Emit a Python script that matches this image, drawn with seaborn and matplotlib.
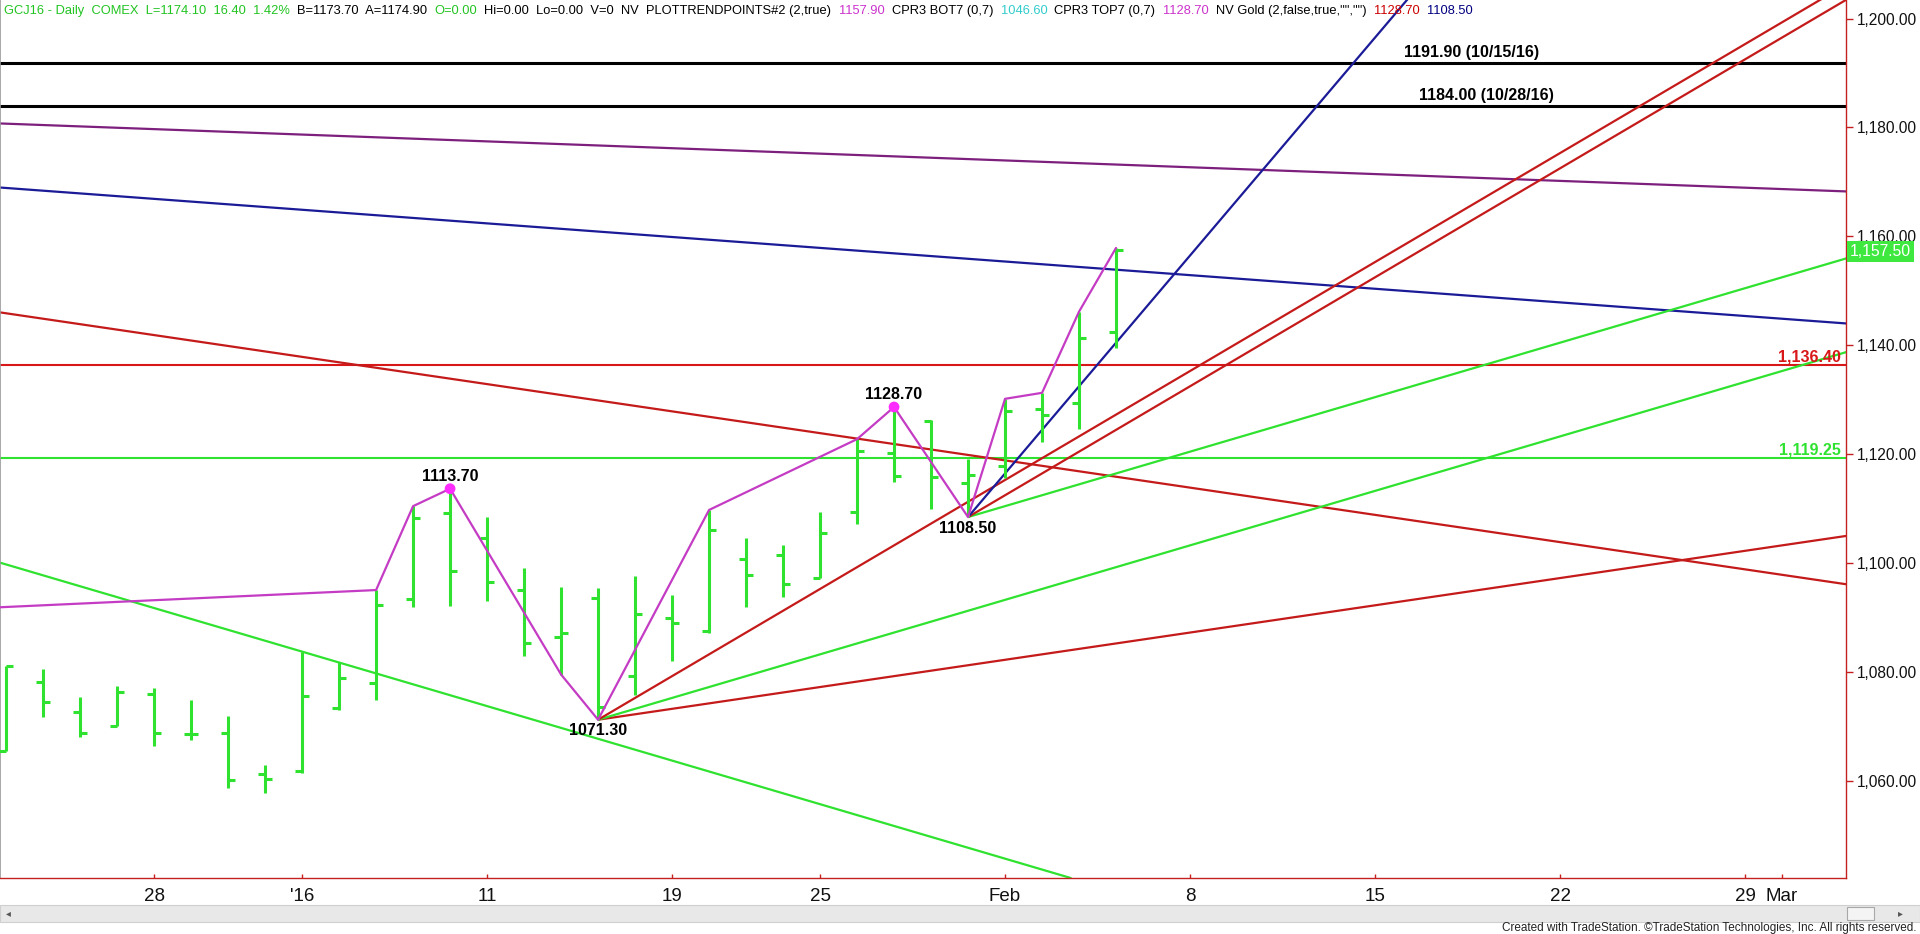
import numpy as np
import pandas as pd
import matplotlib
matplotlib.use("Agg")
import matplotlib.pyplot as plt
from matplotlib import font_manager
from matplotlib.patches import Rectangle
import seaborn as sns

# ---------------- data ----------------
bar_idx = list(range(31))
opens = [1065.6, 1078.2, 1072.7, 1070.2, 1076.1, 1068.7, 1068.8, 1061.3, 1061.9, 1073.5,
         1078.0, 1093.4, 1109.2, 1104.6, 1095.1, 1086.4, 1093.6, 1079.4, 1089.9, 1087.5,
         1100.8, 1101.5, 1097.4, 1109.4, 1120.2, 1126.2, 1114.7, 1117.9, 1128.4, 1129.5, 1142.4]
highs = [1081.2, 1080.7, 1075.5, 1077.4, 1077.1, 1074.9, 1072.0, 1063.0, 1083.8, 1081.9,
         1095.1, 1110.5, 1113.7, 1108.6, 1099.1, 1095.7, 1095.4, 1097.7, 1094.2, 1109.8,
         1104.6, 1103.4, 1109.5, 1122.8, 1128.7, 1126.3, 1119.2, 1130.2, 1131.3, 1146.2, 1157.9]
lows = [1065.6, 1071.8, 1068.2, 1070.2, 1066.5, 1067.6, 1058.8, 1057.8, 1061.6, 1073.1,
        1074.9, 1092.0, 1092.2, 1093.0, 1083.0, 1079.6, 1071.3, 1075.8, 1082.1, 1087.3,
        1092.0, 1093.8, 1097.4, 1107.3, 1114.9, 1109.9, 1108.5, 1115.6, 1122.3, 1124.6, 1139.5]
closes = [1081.2, 1074.6, 1068.8, 1076.4, 1068.8, 1068.7, 1060.2, 1060.5, 1075.6, 1078.9,
          1092.3, 1108.3, 1098.6, 1096.5, 1085.3, 1087.3, 1073.7, 1090.7, 1089.1, 1106.1,
          1097.9, 1096.2, 1105.5, 1120.6, 1116.1, 1115.9, 1116.3, 1128.0, 1127.2, 1141.3, 1157.5]

# swing (trend point) line
zig_idx = [-0.3, 10, 11, 12, 15, 16, 19, 23, 24, 26, 27, 28, 29, 30]
zig_val = [1091.9, 1095.1, 1110.5, 1113.7, 1079.6, 1071.3, 1109.8, 1122.8, 1128.7,
           1108.5, 1130.2, 1131.3, 1146.2, 1157.9]
pivot_high_idx = [12, 24]
pivot_high_val = [1113.7, 1128.7]
pivot_high_txt = ["1113.70", "1128.70"]
pivot_low_idx = [16, 26]
pivot_low_val = [1071.3, 1108.5]
pivot_low_txt = ["1071.30", "1108.50"]

# fan rays: anchor bar, anchor price, slope per bar, colour key (start at anchor)
fan_anchor_idx = [16, 16, 16, 26, 26, 26]
fan_anchor_val = [1071.3, 1071.3, 1071.3, 1108.5, 1108.5, 1108.5]
fan_slope = [1.0, 2.0, 4.0, 2.0, 4.0, 8.0]
fan_kind = ["red", "green", "red", "green", "red", "blue"]

# long trend lines crossing the whole chart: price at bar 0, slope per bar
trend_val0 = [1145.9, 1099.8, 1168.9, 1180.7]
trend_slope = [-1.0, -2.0, -0.5, -0.25]
trend_kind = ["red", "green", "blue", "purple"]

# horizontal levels
black_levels = [1191.90, 1184.00]
black_labels = ["1191.90 (10/15/16)", "1184.00 (10/28/16)"]
black_label_idx = [39.6, 40.0]
red_level = 1136.40
green_level = 1119.25
last_price = 1157.50

y_ticks = [1060, 1080, 1100, 1120, 1140, 1160, 1180, 1200]
x_tick_idx = [4, 8, 13, 18, 22, 27, 32, 37, 42, 47, 48]
x_tick_lab = ["28", "'16", "11", "19", "25", "Feb", "8", "15", "22", "29", "Mar"]
month_idx = [8, 27, 48]

header_parts = [
    ("GCJ16 - Daily  COMEX  L=1174.10  16.40  1.42%", "green"),
    ("B=1173.70  A=1174.90", "black"),
    ("O=0.00", "green"),
    ("Hi=0.00  Lo=0.00  V=0  NV  PLOTTRENDPOINTS#2 (2,true)", "black"),
    ("1157.90", "magenta"),
    ("CPR3 BOT7 (0,7)", "black"),
    ("1046.60", "cyan"),
    ("CPR3 TOP7 (0,7)", "black"),
    ("1128.70", "magenta"),
    ('NV Gold (2,false,true,"","")', "black"),
    ("1128.70", "red"),
    ("1108.50", "navy"),
]

# ---------------- style ----------------
C = {"green": "#2fe22f", "red": "#c41a1a", "hred": "#d81818", "blue": "#1b1b98",
     "purple": "#7d1f7d", "zig": "#c43cc4", "dot": "#ff2cff", "black": "#000000",
     "magenta": "#cc33cc", "cyan": "#33cccc", "navy": "#000080", "hgreen": "#22c422"}

sns.set_theme(style="white")
names = {f.name for f in font_manager.fontManager.ttflist}
NARROW = "Liberation Sans Narrow" if "Liberation Sans Narrow" in names else "Liberation Sans"
plt.rcParams["font.family"] = ["Liberation Sans", "DejaVu Sans"]

W, H = 1920, 934
fig = plt.figure(figsize=(W / 100, H / 100), dpi=100, facecolor="white")
ax = fig.add_axes([0, 1 - 878 / H, 1846 / W, 878 / H])
ax.set_facecolor("white")
XMIN, XMAX = -0.165, 49.73
ax.set_xlim(XMIN, XMAX)
ax.set_ylim(1042.25, 1203.4)

# horizontal levels
for lv in black_levels:
    ax.axhline(lv, color="black", lw=2.2, zorder=2)
ax.axhline(red_level, color=C["hred"], lw=1.5, zorder=2)
ax.axhline(green_level, color=C["green"], lw=1.5, zorder=2)

# long trend lines
for v0, s, k in zip(trend_val0, trend_slope, trend_kind):
    ax.axline((0, v0), slope=s, color=C[k], lw=1.6, zorder=2)

# fan rays from swing lows
for i0, v0, s, k in zip(fan_anchor_idx, fan_anchor_val, fan_slope, fan_kind):
    xe = XMAX + 1
    ax.plot([i0, xe], [v0, v0 + s * (xe - i0)], color=C[k], lw=1.6, zorder=2,
            solid_capstyle="butt")

# OHLC bars
bi = np.array(bar_idx, dtype=float)
ax.vlines(bi, lows, highs, color=C["green"], lw=2.2, zorder=3)
ax.hlines(opens, bi - 0.19, bi, color=C["green"], lw=2.2, zorder=3)
ax.hlines(closes, bi, bi + 0.19, color=C["green"], lw=2.2, zorder=3)

# swing line + pivot dots
zdf = pd.DataFrame({"i": zig_idx, "v": zig_val})
sns.lineplot(data=zdf, x="i", y="v", sort=False, color=C["zig"], lw=1.6, ax=ax, zorder=4)
pdf = pd.DataFrame({"i": pivot_high_idx, "v": pivot_high_val})
sns.scatterplot(data=pdf, x="i", y="v", color=C["dot"], s=60, edgecolor="none", ax=ax, zorder=5)

lab_kw = dict(textcoords="offset points", ha="center", fontweight="bold",
              fontsize=11.5, color="black", zorder=6)
for i, v, t in zip(pivot_high_idx, pivot_high_val, pivot_high_txt):
    ax.annotate(t, (i, v), xytext=(0, 3.5), va="bottom", **lab_kw)
for i, v, t in zip(pivot_low_idx, pivot_low_val, pivot_low_txt):
    ax.annotate(t, (i, v), xytext=(0, -2.5), va="top", **lab_kw)
for i, v, t in zip(black_label_idx, black_levels, black_labels):
    ax.annotate(t, (i, v), xytext=(0, 2), va="bottom", **lab_kw)

yt = ax.get_yaxis_transform()
ax.annotate(f"{red_level:,.2f}", (1, red_level), xycoords=yt, xytext=(-4, 0.5),
            textcoords="offset points", ha="right", va="bottom", fontweight="bold",
            fontsize=11.5, color=C["hred"])
ax.annotate(f"{green_level:,.2f}", (1, green_level), xycoords=yt, xytext=(-4, 0.5),
            textcoords="offset points", ha="right", va="bottom", fontweight="bold",
            fontsize=11.5, color=C["green"])
ax.annotate(f"{last_price:,.2f}", (1, last_price), xycoords=yt, xytext=(3, -1),
            textcoords="offset points", ha="left", va="center", fontsize=11.3,
            color="white", annotation_clip=False, zorder=7,
            bbox=dict(boxstyle="square,pad=0.2", fc="#3ee83e", ec="none"))

# axes
ax.spines["top"].set_visible(False)
ax.spines["left"].set_color("#9a9a9a")
ax.spines["left"].set_linewidth(1.2)
for sp in ["bottom", "right"]:
    ax.spines[sp].set_color("#c42020")
    ax.spines[sp].set_linewidth(1.0)

ax.yaxis.tick_right()
ax.set_yticks(y_ticks)
ax.set_yticklabels([f"{v:,.2f}" for v in y_ticks])
ax.tick_params(axis="y", which="major", right=True, left=False, length=5, width=1,
               color="#c42020", labelsize=11.2, labelcolor="#111111", pad=3)
ax.set_xticks(x_tick_idx)
ax.set_xticklabels(x_tick_lab, fontfamily=NARROW)
ax.set_xticks(month_idx, minor=True)
ax.tick_params(axis="x", which="major", bottom=True, direction="in", length=3, width=1,
               color="#c42020", labelsize=14 if NARROW != "Liberation Sans" else 13.5,
               labelcolor="#111111", pad=7)
ax.tick_params(axis="x", which="minor", bottom=True, direction="out", length=8, width=1,
               color="#c42020")
ax.set_xlabel("")
ax.set_ylabel("")
ax.grid(False)

# ---------------- header ----------------
renderer = fig.canvas.get_renderer()


def tw(s, size):
    t = fig.text(0, 0, s, fontsize=size, fontfamily=NARROW)
    w = t.get_window_extent(renderer).width
    t.remove()
    return w


base = 10
gap0 = tw("x  x", base) - tw("xx", base)
tot = sum(tw(s, base) for s, _ in header_parts) + gap0 * (len(header_parts) - 1)
hsize = base * (1459 / tot)
gap = tw("x  x", hsize) - tw("xx", hsize)
x = 4
for s, ck in header_parts:
    col = {"green": C["hgreen"], "black": "black", "magenta": C["magenta"],
           "cyan": C["cyan"], "red": "#cc0000", "navy": C["navy"]}[ck]
    fig.text(x / W, 1 - 11 / H, s, fontsize=hsize, fontfamily=NARROW, color=col,
             ha="left", va="center")
    x += tw(s, hsize) + gap

# ---------------- scroll bar + footer ----------------
fig.add_artist(Rectangle((0, (H - 922) / H), 1, 17 / H, transform=fig.transFigure,
                         fc="#e8e8e8", ec="#cfcfcf", lw=0.8))
fig.add_artist(Rectangle((1847 / W, (H - 920) / H), 27 / W, 13 / H, transform=fig.transFigure,
                         fc="#f4f4f4", ec="#a8a8a8", lw=0.8))
fig.text(8 / W, 1 - 913 / H, "\u25c2", fontsize=7, color="#555555", ha="center",
         va="center", fontfamily="DejaVu Sans")
fig.text(1900 / W, 1 - 913 / H, "\u25b8", fontsize=7, color="#555555", ha="center",
         va="center", fontfamily="DejaVu Sans")
fig.text(1916 / W, 1 - 928 / H,
         "Created with TradeStation. \u00a9TradeStation Technologies, Inc. All rights reserved.",
         fontsize=8.5, fontfamily=NARROW, color="#222222", ha="right", va="center")

fig.savefig("out.png", dpi=100, facecolor="white")
